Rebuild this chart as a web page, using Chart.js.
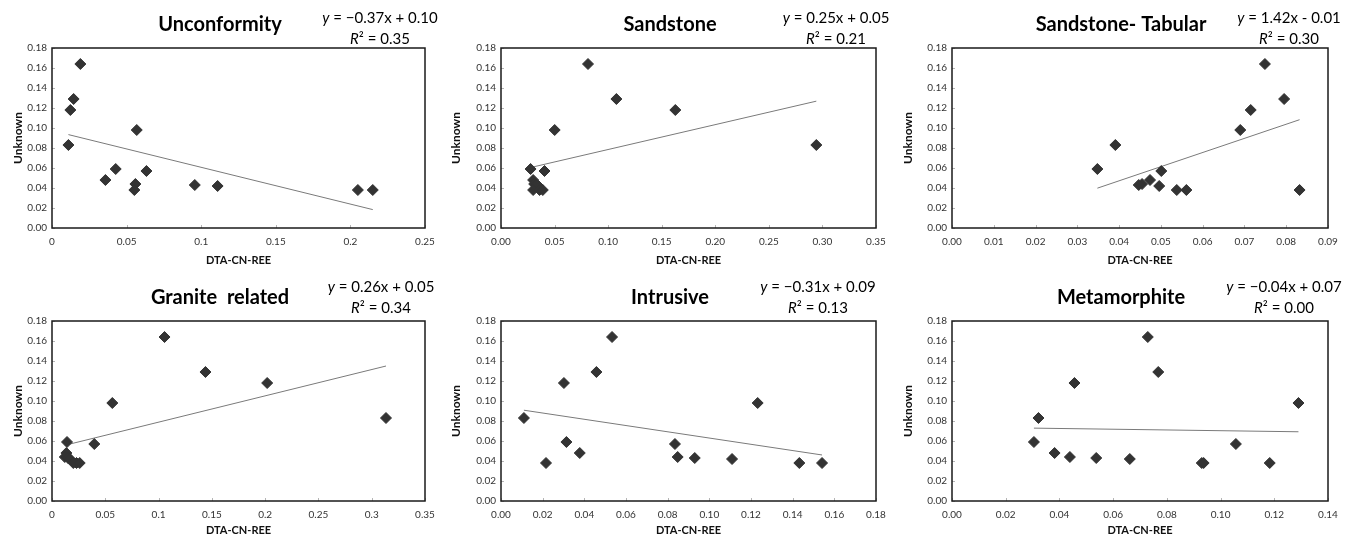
<!DOCTYPE html>
<html>
<head>
<meta charset="utf-8">
<script src="https://cdn.jsdelivr.net/npm/chart.js@4.4.1/dist/chart.umd.min.js"></script>
<style>
  html, body { margin: 0; padding: 0; background: #fff; }
  #wrap { position: relative; width: 1356px; height: 536px; overflow: hidden; }
  #wrap canvas { position: absolute; }
</style>
</head>
<body>
<div id="wrap"></div>
<script>
// "Unknown" values are shared by all panels; each deposit type has its own DTA-CN-REE values
const unknown = [0.164, 0.129, 0.118, 0.098, 0.083, 0.059, 0.057, 0.048, 0.044, 0.043, 0.042, 0.038, 0.038, 0.038];

const unconformity     = [0.019, 0.0145, 0.0123, 0.0568, 0.011, 0.0427, 0.0633, 0.0358, 0.0559, 0.0957, 0.111, 0.0552, 0.205, 0.215];
const sandstone        = [0.0812, 0.1077, 0.1627, 0.0501, 0.2943, 0.0276, 0.0406, 0.030, 0.031, 0.033, 0.035, 0.030, 0.036, 0.039];
const sandstoneTabular = [0.0749, 0.0795, 0.0715, 0.069, 0.0391, 0.0348, 0.0501, 0.0474, 0.0455, 0.0447, 0.0496, 0.0538, 0.0561, 0.0832];
const graniteRelated   = [0.1056, 0.144, 0.2019, 0.0566, 0.3134, 0.0141, 0.0397, 0.0135, 0.012, 0.015, 0.017, 0.020, 0.023, 0.026];
const intrusive        = [0.0533, 0.0458, 0.0302, 0.1232, 0.011, 0.0314, 0.0835, 0.0378, 0.0848, 0.093, 0.1109, 0.0216, 0.1432, 0.1541];
const metamorphite     = [0.0729, 0.0768, 0.0456, 0.129, 0.0322, 0.0305, 0.1057, 0.0382, 0.0439, 0.0537, 0.0662, 0.093, 0.0937, 0.1183];

const titles = ['Unconformity', 'Sandstone', 'Sandstone- Tabular', 'Granite  related', 'Intrusive', 'Metamorphite'];
const equations = ['= \u22120.37x + 0.10', '= 0.25x + 0.05', '= 1.42x - 0.01', '= 0.26x + 0.05', '= \u22120.31x + 0.09', '= \u22120.04x + 0.07'];
const rSquared = ['0.35', '0.21', '0.30', '0.34', '0.13', '0.00'];

const yTickLabels = ['0.00', '0.02', '0.04', '0.06', '0.08', '0.10', '0.12', '0.14', '0.16', '0.18'];
const xTickLabels = [
  ['0', '0.05', '0.1', '0.15', '0.2', '0.25'],
  ['0.00', '0.05', '0.10', '0.15', '0.20', '0.25', '0.30', '0.35'],
  ['0.00', '0.01', '0.02', '0.03', '0.04', '0.05', '0.06', '0.07', '0.08', '0.09'],
  ['0', '0.05', '0.1', '0.15', '0.2', '0.25', '0.3', '0.35'],
  ['0.00', '0.02', '0.04', '0.06', '0.08', '0.10', '0.12', '0.14', '0.16', '0.18'],
  ['0.00', '0.02', '0.04', '0.06', '0.08', '0.10', '0.12', '0.14']
];

const series = [unconformity, sandstone, sandstoneTabular, graniteRelated, intrusive, metamorphite];

// page placement of each panel (page pixels)
const frames = [
  { left: 0,   top: 0,   width: 452, plot: [52, 48, 425, 228],   yTitle: 18,  xTitle: 260, head: [220, 25],  eq: [380, 18, 39] },
  { left: 442, top: 0,   width: 462, plot: [501, 48, 876, 228],  yTitle: 456, xTitle: 260, head: [670, 25],  eq: [836, 18, 39] },
  { left: 894, top: 0,   width: 462, plot: [952, 48, 1328, 228], yTitle: 908, xTitle: 260, head: [1121, 25], eq: [1289, 18, 39] },
  { left: 0,   top: 268, width: 452, plot: [52, 321, 425, 501],  yTitle: 18,  xTitle: 530, head: [220, 298], eq: [381, 287, 308] },
  { left: 442, top: 268, width: 462, plot: [501, 321, 876, 501], yTitle: 456, xTitle: 530, head: [670, 298], eq: [818, 287, 308] },
  { left: 894, top: 268, width: 462, plot: [952, 321, 1328, 501], yTitle: 908, xTitle: 530, head: [1121, 298], eq: [1284, 287, 308] }
];
const PANEL_H = 268;
const FONT = 'Lato, "Open Sans", sans-serif';

function fitLine(xs, ys) {
  const n = xs.length;
  const mx = xs.reduce((a, b) => a + b, 0) / n;
  const my = ys.reduce((a, b) => a + b, 0) / n;
  let sxy = 0, sxx = 0;
  for (let i = 0; i < n; i++) {
    sxy += (xs[i] - mx) * (ys[i] - my);
    sxx += (xs[i] - mx) * (xs[i] - mx);
  }
  const slope = sxy / sxx;
  const icpt = my - slope * mx;
  const lo = Math.min(...xs), hi = Math.max(...xs);
  return [{ x: lo, y: icpt + slope * lo }, { x: hi, y: icpt + slope * hi }];
}

// draws pieces of text with different fonts as one centred line
function drawRuns(ctx, runs, cx, cy) {
  let total = 0;
  runs.forEach(r => { ctx.font = r[0]; total += ctx.measureText(r[1]).width; });
  let x = cx - total / 2;
  ctx.textAlign = 'left';
  runs.forEach(r => {
    ctx.font = r[0];
    ctx.fillText(r[1], x, cy);
    x += ctx.measureText(r[1]).width;
  });
}

const panelDecor = {
  id: 'panelDecor',
  afterDatasetsDraw(chart, args, o) {
    const { ctx, chartArea: a, scales } = chart;
    ctx.save();

    // short tick marks pointing into the plot
    ctx.strokeStyle = '#b5b5b5';
    ctx.lineWidth = 1;
    ctx.beginPath();
    scales.x.ticks.forEach(t => {
      const px = Math.round(scales.x.getPixelForValue(t.value)) + 0.5;
      ctx.moveTo(px, a.bottom);
      ctx.lineTo(px, a.bottom - 3);
    });
    scales.y.ticks.forEach(t => {
      const py = Math.round(scales.y.getPixelForValue(t.value)) + 0.5;
      ctx.moveTo(a.left, py);
      ctx.lineTo(a.left + 3, py);
    });
    ctx.stroke();

    ctx.strokeStyle = '#1a1a1a';
    ctx.lineWidth = 1.5;
    ctx.strokeRect(a.left, a.top, a.right - a.left, a.bottom - a.top);

    ctx.fillStyle = '#000';
    ctx.textBaseline = 'middle';
    ctx.textAlign = 'center';
    ctx.font = 'bold 20px ' + FONT;
    ctx.fillText(o.title, o.headX, o.headY);

    const reg = '15px ' + FONT, ital = 'italic 15px ' + FONT;
    drawRuns(ctx, [[ital, 'y'], [reg, ' ' + o.equation]], o.eqX, o.eqY1);
    drawRuns(ctx, [[ital, 'R'], [reg, '\u00b2 = ' + o.r2]], o.eqX, o.eqY2);
    ctx.restore();
  }
};

const wrap = document.getElementById('wrap');

series.forEach((xs, k) => {
  const f = frames[k];
  const canvas = document.createElement('canvas');
  canvas.width = f.width;
  canvas.height = PANEL_H;
  canvas.style.left = f.left + 'px';
  canvas.style.top = f.top + 'px';
  canvas.style.width = f.width + 'px';
  canvas.style.height = PANEL_H + 'px';
  wrap.appendChild(canvas);

  const plotLeft = f.plot[0] - f.left;
  const plotTop = f.plot[1] - f.top;
  const plotRight = f.plot[2] - f.left;
  const plotBottom = f.plot[3] - f.top;

  const xl = xTickLabels[k];
  const xMin = parseFloat(xl[0]);
  const xMax = parseFloat(xl[xl.length - 1]);
  const xStep = parseFloat(xl[1]) - xMin;

  const points = xs.map((x, i) => ({ x: x, y: unknown[i] }));

  const yTitleFont = { family: FONT, size: 12, weight: 'bold' };
  const xTitleFont = { family: FONT, size: 11, weight: 'bold' };

  new Chart(canvas, {
    type: 'scatter',
    data: {
      datasets: [
        {
          data: points,
          pointStyle: 'rectRot',
          pointRadius: 5.5,
          backgroundColor: '#333',
          borderColor: '#333',
          borderWidth: 1,
          order: 0
        },
        {
          type: 'line',
          data: fitLine(xs, unknown),
          borderColor: '#7a7a7a',
          borderWidth: 1,
          pointRadius: 0,
          fill: false,
          order: 1
        }
      ]
    },
    options: {
      responsive: false,
      animation: false,
      events: [],
      layout: { padding: { left: 0, top: plotTop, right: f.width - plotRight, bottom: 0 } },
      plugins: {
        legend: { display: false },
        tooltip: { enabled: false },
        panelDecor: {
          title: titles[k],
          equation: equations[k],
          r2: rSquared[k],
          headX: f.head[0] - f.left,
          headY: f.head[1] - f.top,
          eqX: f.eq[0] - f.left,
          eqY1: f.eq[1] - f.top,
          eqY2: f.eq[2] - f.top
        }
      },
      scales: {
        x: {
          type: 'linear',
          min: xMin,
          max: xMax,
          afterFit: s => { s.height = PANEL_H - plotBottom; },
          ticks: {
            stepSize: xStep,
            autoSkip: false,
            maxRotation: 0,
            padding: 8,
            color: '#333',
            font: { family: FONT, size: 10 },
            callback: (v, i) => xl[i]
          },
          grid: { display: false, drawTicks: false },
          border: { display: false },
          title: {
            display: true,
            text: 'DTA-CN-REE',
            color: '#111',
            font: xTitleFont,
            padding: { top: 0, bottom: PANEL_H - (f.xTitle - f.top) - 6.6 }
          }
        },
        y: {
          type: 'linear',
          min: 0,
          max: 0.18,
          afterFit: s => { s.width = plotLeft; },
          ticks: {
            stepSize: 0.02,
            autoSkip: false,
            padding: 5,
            color: '#333',
            font: { family: FONT, size: 10 },
            callback: (v, i) => yTickLabels[i]
          },
          grid: { display: false, drawTicks: false },
          border: { display: false },
          title: {
            display: true,
            text: 'Unknown',
            color: '#111',
            font: yTitleFont,
            padding: { top: (f.yTitle - f.left) - 7.2, bottom: 0 }
          }
        }
      }
    },
    plugins: [panelDecor]
  });
});
</script>
</body>
</html>
